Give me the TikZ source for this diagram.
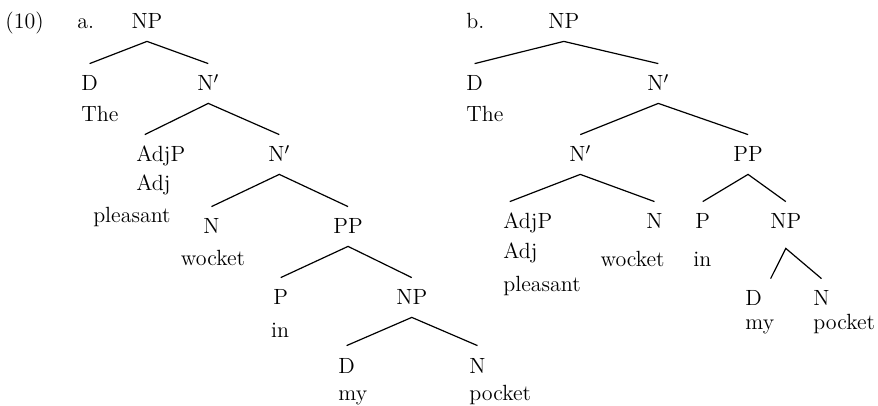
\documentclass[tikz,border=0pt]{standalone}
\usepackage{fontspec}

\begin{document}
\begin{tikzpicture}[x=0.5pt, y=-0.5pt, font=\fontsize{11}{13}\selectfont,
	cat/.style={inner xsep=0pt, inner ysep=6pt, text height=7.5pt, text depth=0pt},
	word/.style={inner sep=0pt},
	branch/.style={line width=0.6pt}]
	\useasboundingbox (0,0) rectangle (878,406);
	% (10a)
	\node[word, anchor=base west] (ex) at (5,29) {(10)};
	\node[word, anchor=base west] (lbla) at (77,29) {a.};
	\node[cat, anchor=base] (npa) at (147,29) {NP};
	\node[cat, anchor=base west] (da) at (81,91) {D};
	\node[cat, anchor=base west] (nbara) at (197,91) {N$'$};
	\node[word, anchor=base west] (thea) at (81,122) {The};
	\node[cat, anchor=base west] (adjpa) at (136,162) {AdjP};
	\node[cat, anchor=base west] (nbarb) at (268,162) {N$'$};
	\node[word, anchor=base west] (adja) at (136,191) {Adj};
	\node[word, anchor=base east] (pleasa) at (171,223) {pleasant};
	\node[cat, anchor=base west] (na) at (203,234) {N};
	\node[cat, anchor=base west] (ppa) at (333,234) {PP};
	\node[word, anchor=base] (wocka) at (213,266) {wocket};
	\node[cat, anchor=base west] (pa) at (273,305) {P};
	\node[cat, anchor=base west] (np2a) at (396,305) {NP};
	\node[word, anchor=base] (ina) at (280,337) {in};
	\node[cat, anchor=base west] (d2a) at (338,373) {D};
	\node[cat, anchor=base west] (n2a) at (469,373) {N};
	\node[word, anchor=base west] (mya) at (338,400) {my};
	\node[word, anchor=base west] (pocka) at (469,400) {pocket};
	\draw[branch] (da.north) -- (npa.south) -- (nbara.north);
	\draw[branch] ([xshift=-8pt]adjpa.north) -- (nbara.south) -- (nbarb.north);
	\draw[branch] (na.north) -- (nbarb.south) -- (ppa.north);
	\draw[branch] (pa.north) -- (ppa.south) -- (np2a.north);
	\draw[branch] (d2a.north) -- (np2a.south) -- (n2a.north);
	% (10b)
	\node[word, anchor=base west] (lblb) at (466,29) {b.};
	\node[cat, anchor=base west] (npb) at (548,29) {NP};
	\node[cat, anchor=base west] (db) at (466,91) {D};
	\node[cat, anchor=base west] (nbarc) at (647,91) {N$'$};
	\node[word, anchor=base west] (theb) at (466,122) {The};
	\node[cat, anchor=base west] (nbard) at (569,162) {N$'$};
	\node[cat, anchor=base west] (ppb) at (733,162) {PP};
	\node[cat, anchor=base west] (adjpb) at (503,229) {AdjP};
	\node[cat, anchor=base east] (nb) at (663,229) {N};
	\node[cat, anchor=base west] (pb) at (695,229) {P};
	\node[cat, anchor=base west] (np2b) at (770,229) {NP};
	\node[word, anchor=base west] (adjb) at (503,259) {Adj};
	\node[word, anchor=base east] (wockb) at (665,267) {wocket};
	\node[word, anchor=base west] (inb) at (693,267) {in};
	\node[word, anchor=base west] (pleasb) at (503,292) {pleasant};
	\node[cat, anchor=base west] (d2b) at (745,306) {D};
	\node[cat, anchor=base west] (n2b) at (813,306) {N};
	\node[word, anchor=base west] (myb) at (745,329) {my};
	\node[word, anchor=base west] (pockb) at (813,329) {pocket};
	\draw[branch] (db.north) -- (npb.south) -- (nbarc.north);
	\draw[branch] (nbard.north) -- (nbarc.south) -- (ppb.north);
	\draw[branch] ([xshift=-9pt]adjpb.north) -- (nbard.south) -- (nb.north);
	\draw[branch] (pb.north) -- (ppb.south) -- (np2b.north);
	\draw[branch] ([xshift=8.5pt]d2b.north) -- ([yshift=-3.5pt]np2b.south) -- (n2b.north);
\end{tikzpicture}
\end{document}
